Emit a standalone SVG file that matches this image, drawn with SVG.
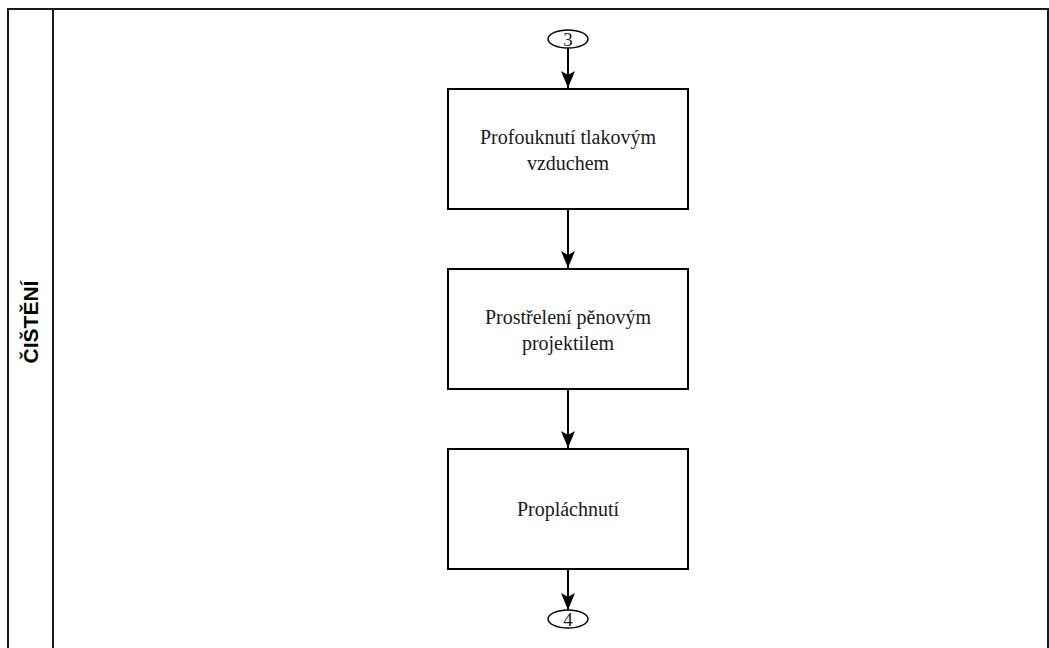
<svg xmlns="http://www.w3.org/2000/svg" width="1049" height="648" viewBox="0 0 1049 648">
  <style>
    .lane { fill: none; stroke: #1a1a1a; stroke-width: 2; }
    .box { fill: #ffffff; stroke: #000000; stroke-width: 2; }
    .conn { fill: #ffffff; stroke: #000000; stroke-width: 1.5; }
    .label { font-family: "Liberation Serif", "Times New Roman", serif; font-size: 20px; fill: #1a1a1a; text-anchor: middle; }
    .ref { font-family: "Liberation Serif", "Times New Roman", serif; font-size: 19px; fill: #1a1a1a; text-anchor: middle; }
    .title { font-family: "Liberation Sans", Arial, sans-serif; font-size: 21px; font-weight: bold; fill: #000000; text-anchor: middle; }
    .edge { stroke: #000000; stroke-width: 2; fill: none; marker-end: url(#arrow); }
  </style>
  <defs>
    <!-- filled arrowhead with a slight notch, tip at the line end -->
    <marker id="arrow" markerWidth="18" markerHeight="16" refX="17" refY="8" orient="auto" markerUnits="userSpaceOnUse" viewBox="0 0 18 16">
      <path d="M0,1 L17,8 L0,15 L4,8 Z" fill="#000000"/>
    </marker>
  </defs>
  <rect width="1049" height="648" fill="#ffffff"/>

  <!-- swimlane -->
  <g id="lane">
    <rect class="lane" x="8" y="9" width="1040" height="660"/>
    <line class="lane" x1="53" y1="9" x2="53" y2="648"/>
    <text class="title" transform="translate(38 322) rotate(-90)">ČIŠTĚNÍ</text>
  </g>

  <!-- connectors -->
  <g id="connectors">
    <line class="edge" x1="568" y1="48" x2="568" y2="88"/>
    <line class="edge" x1="568" y1="210" x2="568" y2="268"/>
    <line class="edge" x1="568" y1="390" x2="568" y2="448"/>
    <line class="edge" x1="568" y1="570" x2="568" y2="610"/>
  </g>

  <g id="ref-3">
    <ellipse class="conn" cx="568" cy="39" rx="20" ry="9"/>
    <text class="ref" x="568" y="46">3</text>
  </g>

  <g id="step-1">
    <rect class="box" x="448" y="89" width="240" height="120"/>
    <text class="label" x="568" y="144">Profouknutí tlakovým</text>
    <text class="label" x="568" y="170">vzduchem</text>
  </g>

  <g id="step-2">
    <rect class="box" x="448" y="269" width="240" height="120"/>
    <text class="label" x="568" y="324">Prostřelení pěnovým</text>
    <text class="label" x="568" y="350">projektilem</text>
  </g>

  <g id="step-3">
    <rect class="box" x="448" y="449" width="240" height="120"/>
    <text class="label" x="568" y="516">Propláchnutí</text>
  </g>

  <g id="ref-4">
    <ellipse class="conn" cx="568" cy="619" rx="20" ry="9"/>
    <text class="ref" x="568" y="626">4</text>
  </g>
</svg>
